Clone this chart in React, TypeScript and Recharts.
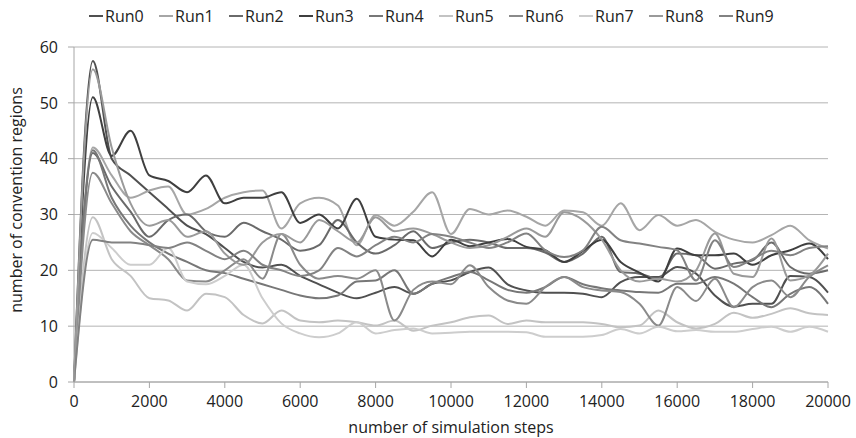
import { LineChart, Line, XAxis, YAxis, CartesianGrid } from "recharts";

const steps = [
    0, 500, 1000, 1500, 2000, 2500, 3000, 3500, 4000, 4500, 5000, 5500, 6000, 6500, 7000, 7500, 8000, 8500, 9000, 9500,
    10000, 10500, 11000, 11500, 12000, 12500, 13000, 13500, 14000, 14500, 15000, 15500, 16000, 16500, 17000, 17500,
    18000, 18500, 19000, 19500, 20000
];

const run0 = [0, 57.5, 40, 37, 34, 31, 28, 26.5, 24, 21.5, 20.5, 21, 19, 17.5, 16, 15, 16, 17, 15.8, 17.6, 18.2, 19.7, 20.5, 17.5, 16.4, 16, 16, 15.8, 15.2, 17.9, 18.8, 18.8, 20.6, 19.4, 15.5, 13.5, 14, 14, 19, 18.8, 16];
const run1 = [0, 42, 37, 33, 34.3, 35, 30, 31, 33, 34, 34.3, 27.5, 32, 33, 31.6, 24.5, 29.9, 28, 30.5, 34, 26.5, 31, 30, 30.7, 29.6, 28, 30.7, 30.4, 28, 32, 27.2, 29.9, 28, 29, 26.9, 25.5, 25, 26.3, 28, 25.4, 23.9];
const run2 = [0, 41, 35, 30.5, 26, 29, 30, 27, 26, 28.5, 27, 25.5, 23.5, 24.5, 29, 25, 23, 24.5, 27, 24, 25, 25.5, 25, 24, 24, 23.2, 21.5, 23, 26, 19.7, 19.4, 18.5, 23, 22.7, 20.3, 21.2, 21.8, 25, 20.6, 19.4, 20];
const run3 = [0, 51, 40.5, 45, 37, 36, 34, 37, 32, 33, 33, 34, 28.5, 30, 27.5, 32.8, 26, 25.5, 25.4, 22.5, 25.5, 24.3, 25, 25.6, 24.2, 23.6, 21.5, 23.5, 25.5, 21.5, 19.6, 18, 23.9, 22.7, 22.7, 23, 21, 22.7, 23.6, 24.8, 22];
const run4 = [0, 41.5, 33, 28, 25, 23, 21.5, 20, 19.5, 18.5, 17.5, 16.5, 15.5, 15, 15.5, 18, 18.2, 20, 15.8, 17.6, 18.8, 19.7, 18.2, 16.5, 16, 17, 18.8, 17.5, 16.8, 16.4, 16.1, 16, 17.6, 17.6, 18.8, 17.6, 15.2, 13.4, 15.8, 17, 14];
const run5 = [0, 29.5, 22, 19, 15, 14.6, 12.8, 15.8, 15.2, 12, 10.5, 12.8, 11, 10.7, 11, 10.7, 10.1, 11, 9.2, 10.1, 10.7, 11.6, 11.9, 10.4, 11, 10.7, 10.7, 10.7, 10.4, 9.8, 10.1, 12.8, 10.7, 9.6, 10.4, 12.4, 11.5, 12.2, 13.2, 12.3, 12];
const run6 = [0, 37.5, 32, 27, 24.5, 22, 18.2, 18, 20, 22, 18.5, 26.5, 21, 18.5, 19, 18.5, 20, 11, 16.5, 18, 17.5, 20.9, 17, 14.6, 14, 17, 18.8, 17, 16.4, 16.1, 14, 10.1, 17, 14.5, 18.5, 13.4, 17, 18.2, 15.2, 18.8, 20.9];
const run7 = [0, 26.7, 24, 21, 21, 24, 18, 17.5, 19, 21, 15, 10.5, 8.7, 8, 8.7, 10.7, 8.7, 9.3, 9.6, 8.7, 8.8, 9, 9, 9, 8.9, 8.1, 8.1, 8.1, 8.4, 9.5, 8.7, 9.9, 9.1, 9.3, 9, 9, 9.5, 9.9, 9, 9.9, 9];
const run8 = [0, 56, 42, 32, 28, 29, 26, 27, 23, 21, 25, 26.5, 25, 29, 27, 25, 29.5, 27, 27.5, 26.5, 25, 24, 24.5, 26, 27.5, 26, 30.4, 29, 25.5, 20, 18, 18.5, 18, 20, 26.6, 19.4, 18.8, 25.7, 18.2, 19.1, 23];
const run9 = [0, 25.5, 25, 25, 24.5, 24, 25, 23.5, 22, 23.5, 21, 20, 19, 20, 24, 22.5, 24.5, 26, 25, 26.5, 26, 25, 24, 25, 26.6, 23.6, 22.4, 23.6, 27.8, 25.4, 24.8, 24.2, 23.6, 18.2, 25.4, 20.6, 22, 23.5, 22.7, 24, 24.3];

const seriesNames = ["Run0", "Run1", "Run2", "Run3", "Run4", "Run5", "Run6", "Run7", "Run8", "Run9"];
const seriesValues = [run0, run1, run2, run3, run4, run5, run6, run7, run8, run9];
const seriesColors = ["#505050", "#a6a6a6", "#6a6a6a", "#3f3f3f", "#777777", "#c3c3c3", "#8a8a8a", "#cdcdcd", "#9a9a9a", "#828282"];

const xTicks = [0, 2000, 4000, 6000, 8000, 10000, 12000, 14000, 16000, 18000, 20000];
const yTicks = [0, 10, 20, 30, 40, 50, 60];

const FONT = "'Open Sans', sans-serif";

const data = steps.map((step, i) => {
    const row: Record<string, number> = { step };
    seriesNames.forEach((name, s) => {
        row[name] = seriesValues[s][i];
    });
    return row;
});

export default function App() {
    return (
        <div style={{ position: "absolute", left: 0, top: 0, width: 856, height: 438, background: "#fff", fontFamily: FONT }}>
            {/* legend drawn as plain html so it does not shift the plot */}
            <div style={{ position: "absolute", top: 5, left: 89, display: "flex", fontSize: 16, color: "#222", lineHeight: "22px" }}>
                {seriesNames.map((name, i) => (
                    <div key={name} style={{ display: "flex", alignItems: "center", width: 70 }}>
                        <span style={{ display: "inline-block", width: 14, height: 2, background: seriesColors[i], marginRight: 2 }} />
                        <span>{name}</span>
                    </div>
                ))}
            </div>
            <LineChart width={856} height={438} data={data} margin={{ top: 47, right: 28, left: 0, bottom: 0 }}>
                <CartesianGrid vertical={false} stroke="#b4b4b4" strokeWidth={1} />
                <XAxis
                    dataKey="step"
                    type="number"
                    domain={[0, 20000]}
                    ticks={xTicks}
                    interval={0}
                    height={56}
                    tickSize={6}
                    tickMargin={8}
                    stroke="#a6a6a6"
                    tick={{ fill: "#222", fontSize: 16, fontFamily: FONT }}
                    label={{
                        content: () => (
                            <text x={451} y={433} textAnchor="middle" fill="#222" fontSize={16} fontFamily={FONT}>
                                number of simulation steps
                            </text>
                        )
                    }}
                />
                <YAxis
                    type="number"
                    domain={[0, 60]}
                    ticks={yTicks}
                    interval={0}
                    width={74}
                    tickSize={6}
                    tickMargin={10}
                    stroke="#a6a6a6"
                    tick={{ fill: "#222", fontSize: 16, fontFamily: FONT }}
                    label={{
                        content: () => (
                            <text x={22} y={200} transform="rotate(-90 22 200)" textAnchor="middle" fill="#222" fontSize={16} fontFamily={FONT}>
                                number of convention regions
                            </text>
                        )
                    }}
                />
                {seriesNames.map((name, i) => (
                    <Line
                        key={name}
                        type="monotone"
                        dataKey={name}
                        stroke={seriesColors[i]}
                        strokeWidth={2}
                        dot={false}
                        isAnimationActive={false}
                    />
                ))}
            </LineChart>
        </div>
    );
}
